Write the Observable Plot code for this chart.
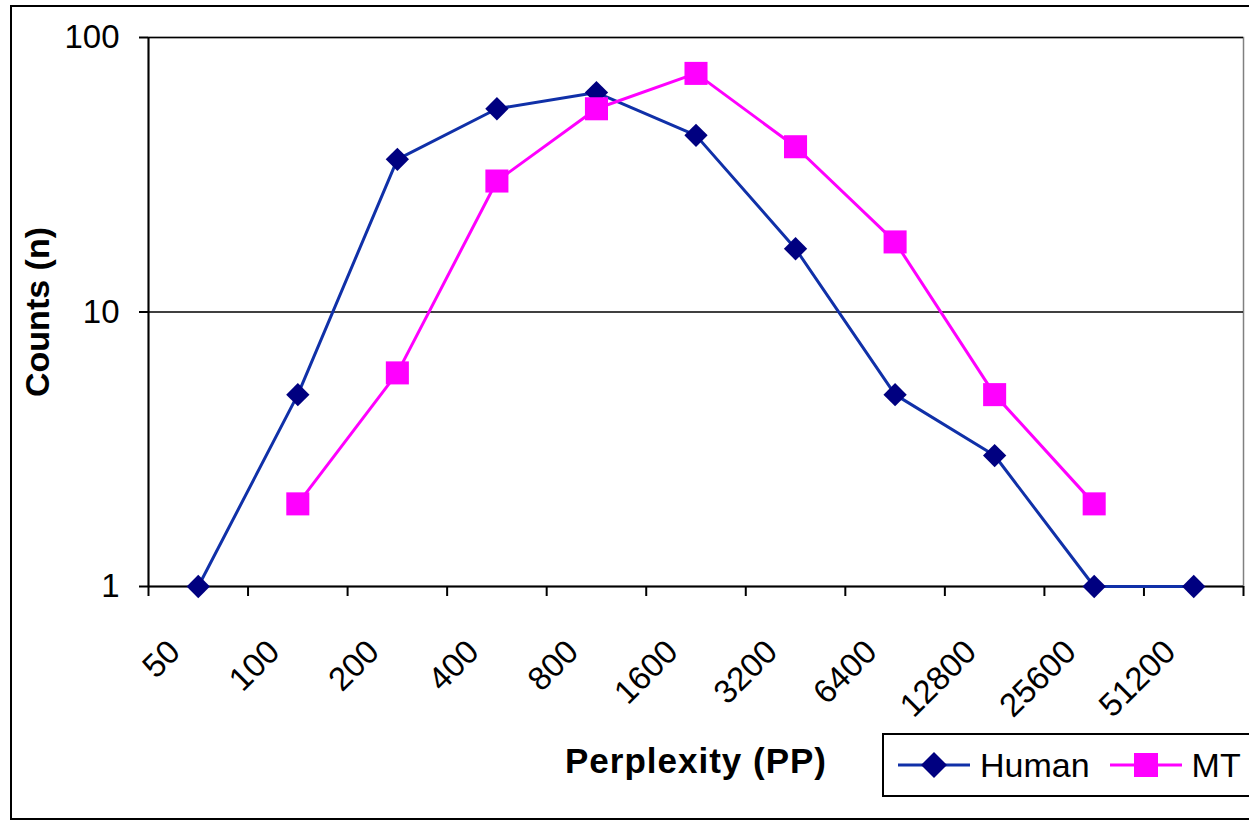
<!DOCTYPE html>
<html>
<head>
<meta charset="utf-8">
<script src="https://cdn.jsdelivr.net/npm/d3@7"></script>
<script src="https://cdn.jsdelivr.net/npm/@observablehq/plot@0.6"></script>
<style>
  html, body { margin: 0; padding: 0; background: #fff; }
  #wrap { position: relative; width: 1249px; height: 823px; overflow: hidden; font-family: "Liberation Sans", Arial, sans-serif; }
  #frame { position: absolute; left: 10px; top: 5px; width: 1300px; height: 815px; border: 2px solid #000; box-sizing: border-box; pointer-events: none; }
  #chart { position: absolute; left: 0; top: 0; }
  #legend { position: absolute; left: 882px; top: 733px; width: 420px; height: 64px; border: 2px solid #000; box-sizing: border-box; background: #fff; display: flex; align-items: center; font-size: 34px; color: #000; }
  #legend .item { display: flex; align-items: center; }
  #legend svg { display: block; }
</style>
</head>
<body>
<div id="wrap">
  <div id="chart"></div>
  <div id="legend"></div>
  <div id="frame"></div>
</div>
<script>
// ---- data ----
const binLower = [50, 100, 200, 400, 800, 1600, 3200, 6400, 12800, 25600, 51200];
const humanCounts = [1, 5, 36, 55, 63, 44, 17, 5, 3, 1, 1];
const mtCounts = [null, 2, 6, 30, 55, 74, 40, 18, 5, 2, null];
const xTickValues = [50, 100, 200, 400, 800, 1600, 3200, 6400, 12800, 25600, 51200, 102400];
const xTickLabels = ["50", "100", "200", "400", "800", "1600", "3200", "6400", "12800", "25600", "51200", ""];
const yTicks = [1, 10, 100];
const yGrid = [10, 100];
const seriesNames = ["Human", "MT"];
const humanLine = "#1030a8", humanMark = "#000080", mtColor = "#ff00ff";

// bin centre on the log2 axis (geometric midpoint of each bin)
const centre = (lo) => lo * Math.SQRT2;
const human = binLower.map((lo, i) => ({x: centre(lo), y: humanCounts[i]})).filter(d => d.y != null);
const mt = binLower.map((lo, i) => ({x: centre(lo), y: mtCounts[i]})).filter(d => d.y != null);
const labelFor = new Map(xTickValues.map((v, i) => [v, xTickLabels[i]]));

const chart = Plot.plot({
  width: 1249,
  height: 823,
  marginLeft: 148,
  marginRight: 6,
  marginTop: 37,
  marginBottom: 237,
  style: {fontFamily: "'Liberation Sans', Arial, sans-serif", fontSize: "33px", color: "#000", background: "transparent", overflow: "visible"},
  x: {type: "log", base: 2, domain: [50, 102400]},
  y: {type: "log", domain: [1, 100]},
  marks: [
    Plot.frame({stroke: "#808080", strokeWidth: 1.5}),
    Plot.ruleY(yGrid, {stroke: "#000", strokeWidth: 1.5}),
    Plot.ruleY([1], {stroke: "#000", strokeWidth: 2}),
    Plot.ruleX([50], {stroke: "#000", strokeWidth: 2}),
    Plot.axisY({ticks: yTicks, tickFormat: d => String(d), tickSize: 9, tickPadding: 20, label: null, strokeWidth: 2}),
    Plot.axisY({ticks: [], label: "Counts (n)", labelAnchor: "center", labelOffset: 124, labelArrow: false}),
    Plot.axisX({ticks: xTickValues, tickFormat: () => "", tickSize: 10, label: null, strokeWidth: 2}),
    Plot.axisX({ticks: xTickValues, tickFormat: d => labelFor.get(d), tickSize: 0, tickRotate: -45, dx: 26, dy: 48, label: null}),
    Plot.axisX({ticks: [], label: "Perplexity (PP)", labelAnchor: "center", labelOffset: 186, labelArrow: false}),
    Plot.line(human, {x: "x", y: "y", stroke: humanLine, strokeWidth: 3}),
    Plot.line(mt, {x: "x", y: "y", stroke: mtColor, strokeWidth: 3}),
    Plot.dot(human, {x: "x", y: "y", symbol: "diamond2", r: 10.5, fill: humanMark, stroke: null}),
    Plot.dot(mt, {x: "x", y: "y", symbol: "square", r: 13, fill: mtColor, stroke: null})
  ]
});
d3.select(chart).selectAll('g[aria-label="x-axis label"] text')
  .attr("font-weight", "bold").attr("font-size", "35px").attr("letter-spacing", "1px");
d3.select(chart).selectAll('g[aria-label="y-axis label"] text')
  .attr("font-weight", "bold").attr("font-size", "34px");
document.getElementById("chart").appendChild(chart);

// ---- legend ----
const legend = d3.select("#legend");
const sw = [
  {name: seriesNames[0], line: humanLine, mark: humanMark, shape: "diamond"},
  {name: seriesNames[1], line: mtColor, mark: mtColor, shape: "square"}
];
sw.forEach((s, i) => {
  const item = legend.append("div").attr("class", "item").style("margin-left", i === 0 ? "12px" : "18px");
  const svg = item.append("svg").attr("width", 76).attr("height", 40);
  svg.append("line").attr("x1", 2).attr("x2", 74).attr("y1", 20).attr("y2", 20).attr("stroke", s.line).attr("stroke-width", 3);
  if (s.shape === "diamond") {
    svg.append("path").attr("d", "M38,7L51,20L38,33L25,20Z").attr("fill", s.mark);
  } else {
    svg.append("rect").attr("x", 26).attr("y", 8).attr("width", 24).attr("height", 24).attr("fill", s.mark);
  }
  item.append("span").style("margin-left", "8px").text(s.name);
});
</script>
</body>
</html>
